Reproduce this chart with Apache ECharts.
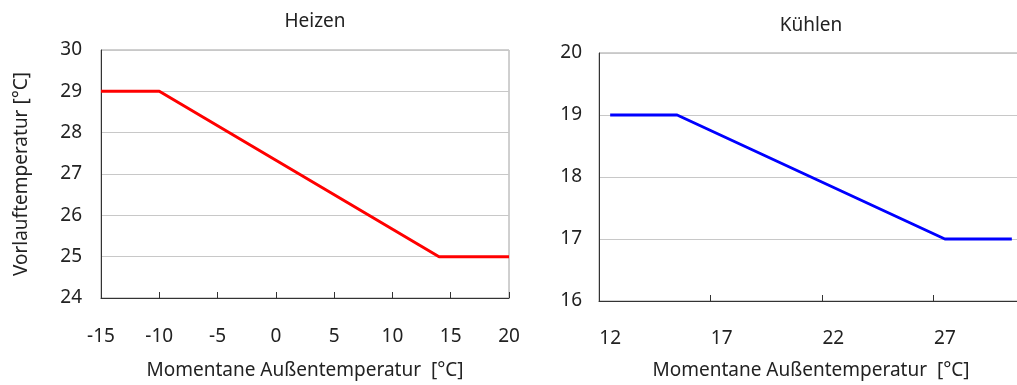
<!DOCTYPE html>
<html><head><meta charset="utf-8">
<script src="https://cdn.jsdelivr.net/npm/echarts@6/dist/echarts.min.js"></script>
<style>html,body{margin:0;padding:0;background:#fff;overflow:hidden}#c{width:1040px;height:385px}</style>
</head><body><div id="c"></div>
<script>
// Heizen (heating) curve: outside temperature -> flow temperature
const heatX = [-15, -10, 14, 20];
const heatY = [29, 29, 25, 25];
// Kühlen (cooling) curve
const coolCategories = ['12','13','14','15','16','17','18','19','20','21','22','23','24','25','26','27','28','29','30'];
const coolX = ['12', '15', '27', '30'];
const coolY = [19, 19, 17, 17];
const titles = ['Heizen', 'Kühlen'];
const xName = 'Momentane Außentemperatur  [°C]';
const yName = 'Vorlauftemperatur [°C]';

const font = 'Noto Sans';
const txt = '#222';
const fs = 19;
const chart = echarts.init(document.getElementById('c'), null, {renderer: 'canvas'});
const axisLabel = {color: txt, fontSize: fs, fontFamily: font};
const nameStyle = {color: txt, fontSize: fs, fontFamily: font};
chart.setOption({
  animation: false,
  title: [
    {text: titles[0], left: 310, top: 7, textAlign: 'center', textStyle: {color: txt, fontSize: fs, fontWeight: 'normal', fontFamily: font}},
    {text: titles[1], left: 806, top: 11, textAlign: 'center', textStyle: {color: txt, fontSize: fs, fontWeight: 'normal', fontFamily: font}}
  ],
  grid: [
    {left: 101, width: 408, top: 50, height: 250, show: true, borderColor: '#a0a0a0', borderWidth: 1},
    {left: 599, width: 424, top: 53, height: 249, show: true, borderColor: '#a0a0a0', borderWidth: 1}
  ],
  xAxis: [
    {type: 'value', gridIndex: 0, min: -15, max: 20, interval: 5,
     axisLine: {show: true, onZero: false, lineStyle: {color: '#333', width: 1}},
     axisTick: {show: true, inside: true, length: 6, lineStyle: {color: '#333'}},
     splitLine: {show: false},
     axisLabel: Object.assign({margin: 29}, axisLabel),
     name: xName, nameLocation: 'middle', nameGap: 63, nameTextStyle: nameStyle},
    {type: 'category', gridIndex: 1, data: coolCategories, boundaryGap: true,
     axisLine: {show: true, onZero: false, lineStyle: {color: '#333', width: 1}},
     axisTick: {show: true, inside: true, length: 6, interval: 4, lineStyle: {color: '#333'}},
     splitLine: {show: false},
     axisLabel: Object.assign({margin: 28, interval: 4}, axisLabel),
     name: xName, nameLocation: 'middle', nameGap: 60, nameTextStyle: nameStyle}
  ],
  yAxis: [
    {type: 'value', gridIndex: 0, min: 24, max: 30, interval: 1,
     axisLine: {show: true, onZero: false, lineStyle: {color: '#333', width: 1}},
     axisTick: {show: false},
     splitLine: {show: true, lineStyle: {color: '#c8c8c8', width: 1}},
     axisLabel: Object.assign({margin: 19}, axisLabel),
     name: yName, nameLocation: 'middle', nameGap: 70, nameRotate: 90, nameTextStyle: nameStyle},
    {type: 'value', gridIndex: 1, min: 16, max: 20, interval: 1,
     axisLine: {show: true, onZero: false, lineStyle: {color: '#333', width: 1}},
     axisTick: {show: false},
     splitLine: {show: true, lineStyle: {color: '#c8c8c8', width: 1}},
     axisLabel: Object.assign({margin: 17}, axisLabel)}
  ],
  series: [
    {type: 'line', xAxisIndex: 0, yAxisIndex: 0, showSymbol: false,
     lineStyle: {color: '#ff0000', width: 3}, itemStyle: {color: '#ff0000'},
     data: heatX.map((x, i) => [x, heatY[i]])},
    {type: 'line', xAxisIndex: 1, yAxisIndex: 1, showSymbol: false,
     lineStyle: {color: '#0000ff', width: 3}, itemStyle: {color: '#0000ff'},
     data: coolX.map((x, i) => [x, coolY[i]])}
  ]
});
</script></body></html>
